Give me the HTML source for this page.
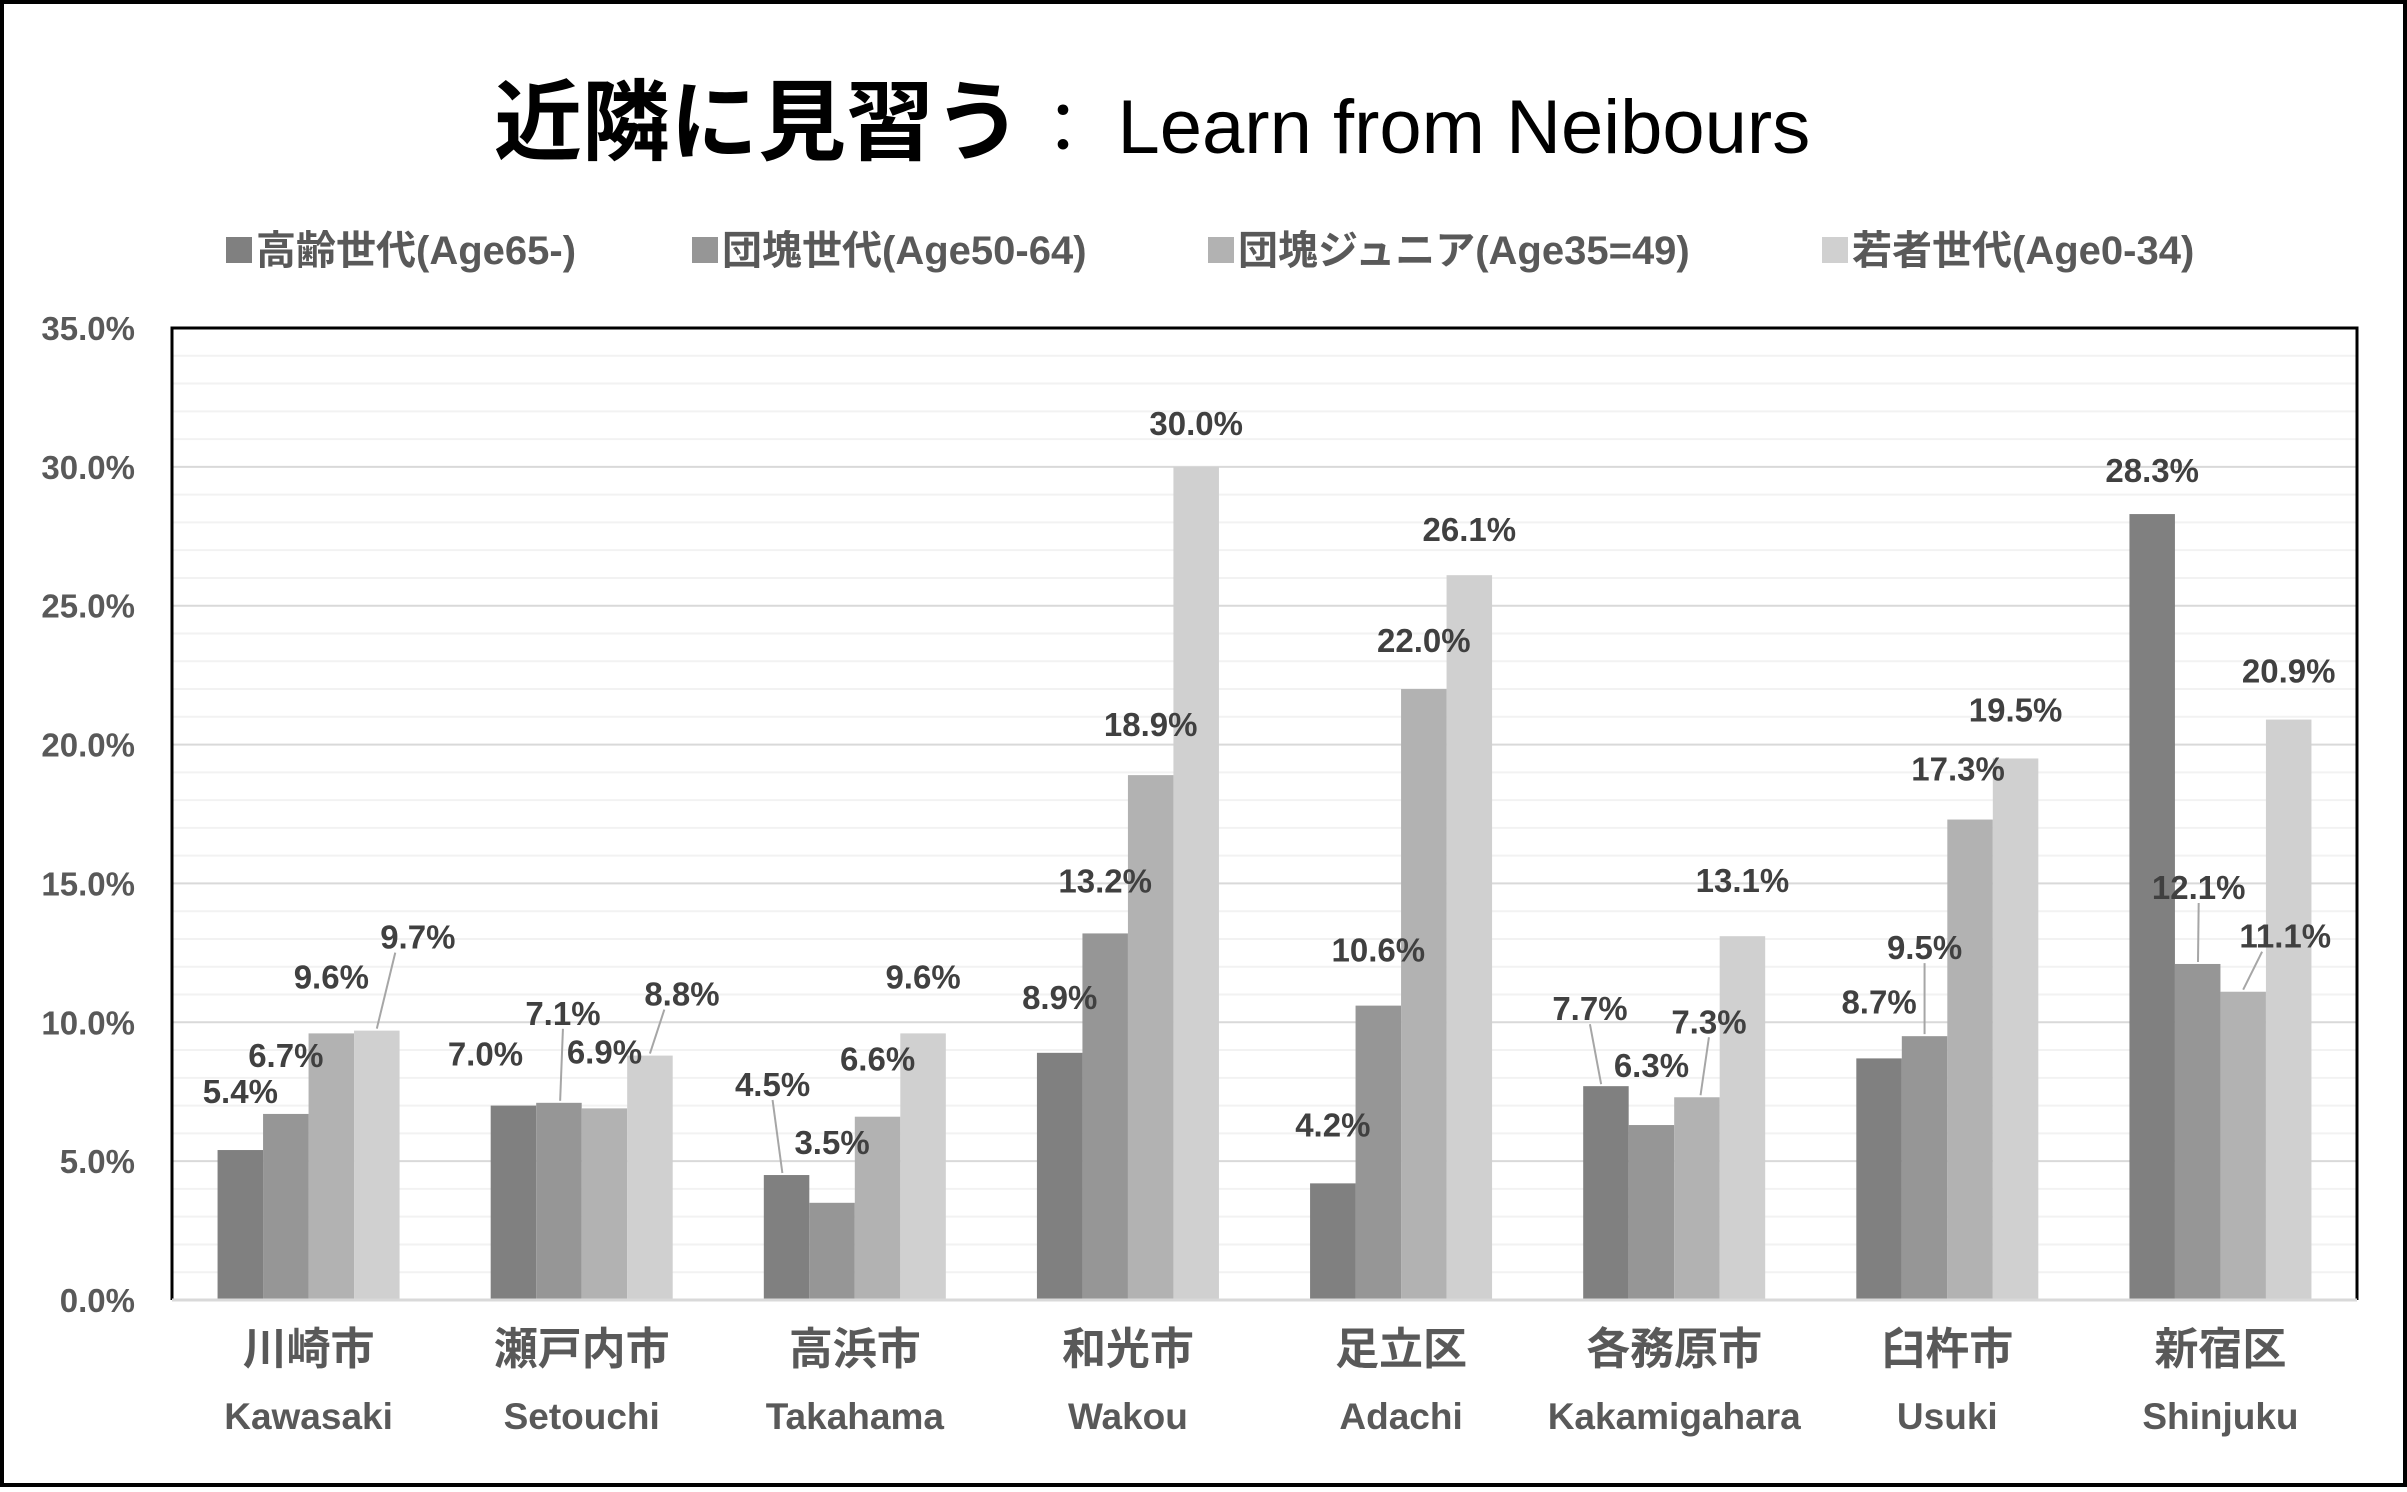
<!DOCTYPE html>
<html><head><meta charset="utf-8"><style>
body{margin:0;background:#fff}
svg text{font-family:"Liberation Sans","Noto Sans CJK JP",sans-serif}
</style></head><body>
<svg id="chart" width="2407" height="1487" viewBox="0 0 2407 1487" xmlns="http://www.w3.org/2000/svg">
<rect x="2" y="2" width="2403" height="1483" fill="#fff" stroke="#000" stroke-width="4"/>
<text x="494" y="153" font-size="88" font-weight="bold" fill="#000">近隣に見習う<tspan font-weight="normal" font-size="70" dx="6">： </tspan><tspan font-weight="normal" font-size="76">Learn from Neibours</tspan></text>
<g id="legend"></g>
<g id="grid"></g>
<g id="yaxis"></g>
<g id="bars"></g>
<g id="labels"></g>
<g id="xaxis"></g>
</svg>
<script>
const categoriesJP = ["川崎市","瀬戸内市","高浜市","和光市","足立区","各務原市","臼杵市","新宿区"];
const categoriesEN = ["Kawasaki","Setouchi","Takahama","Wakou","Adachi","Kakamigahara","Usuki","Shinjuku"];
const seriesNames = ["高齢世代(Age65-)","団塊世代(Age50-64)","団塊ジュニア(Age35=49)","若者世代(Age0-34)"];
const elderly = [5.4,7.0,4.5,8.9,4.2,7.7,8.7,28.3];
const boomers = [6.7,7.1,3.5,13.2,10.6,6.3,9.5,12.1];
const juniors = [9.6,6.9,6.6,18.9,22.0,7.3,17.3,11.1];
const youth = [9.7,8.8,9.6,30.0,26.1,13.1,19.5,20.9];
const yTicks = [0,5,10,15,20,25,30,35];

const NS="http://www.w3.org/2000/svg";
const colors=["#808080","#969696","#b2b2b2","#d0d0d0"];
const series=[elderly,boomers,juniors,youth];
const L=172,R=2357,T=328,B=1300,yMax=35;
const y=v=>B-(v/yMax)*(B-T);
const gw=(R-L)/categoriesJP.length, bw=45.5;
const gx=i=>L+gw*(i+0.5);
const bx=(i,j)=>gx(i)+(j-1.5)*bw;
function mk(tag,attrs,parent){const e=document.createElementNS(NS,tag);for(const k in attrs)e.setAttribute(k,attrs[k]);parent.appendChild(e);return e;}
const G=id=>document.getElementById(id);
// label offsets [series][category] = [dx,dy] relative to bar top
const off=[
 [[0,-59],[-28,-52],[-14,-91],[0,-56],[0,-59],[-16,-78],[0,-57],[0,-44]],
 [[0,-59],[4,-90],[0,-61],[0,-53],[0,-56],[0,-60],[0,-89],[1,-77]],
 [[0,-57],[0,-57],[0,-58],[0,-51],[0,-49],[12,-76],[-12,-51],[42,-56]],
 [[41,-94],[32,-62],[0,-57],[0,-44],[0,-46],[0,-56],[0,-49],[0,-49]]
];
// grid
for(let v=1;v<=35;v++){const l=mk("line",{x1:L,x2:R,y1:y(v),y2:y(v),stroke:v%5?"#f2f2f2":"#d9d9d9","stroke-width":2},G("grid"));

}
// plot frame
const fr=mk("path",{d:`M${L},${B} L${L},${T} L${R},${T} L${R},${B}`,fill:"none",stroke:"#000","stroke-width":3},G("grid"));


yTicks.forEach(v=>{const t=mk("text",{x:135,y:y(v)+12,"text-anchor":"end","font-size":33,"font-weight":"bold",fill:"#595959"},G("yaxis"));t.textContent=v.toFixed(1)+"%";

});
series.forEach((s,j)=>s.forEach((v,i)=>{
 const r=mk("rect",{x:bx(i,j)-bw/2,y:y(v),width:bw,height:B-y(v),fill:colors[j]},G("bars"));
 
 
 const [dx,dy]=off[j][i];const lx=bx(i,j)+dx, ly=y(v)+dy;
 if(Math.abs(dx)>30||dy<-70){const ln=mk("line",{x1:lx-(dx>30?dx*0.55:0),y1:ly+16,x2:bx(i,j)+(dx>30?0:dx*0.3),y2:y(v)-2,stroke:"#a6a6a6","stroke-width":2},G("labels"));
 
 }
 const t=mk("text",{x:lx,y:ly+12,"text-anchor":"middle","font-size":33,"font-weight":"bold",fill:"#404040"},G("labels"));
 t.textContent=v.toFixed(1)+"%";
 
 
}));
const ax=mk("line",{x1:L,x2:R,y1:B,y2:B,stroke:"#d9d9d9","stroke-width":3},G("xaxis"));


categoriesJP.forEach((c,i)=>{
 const a=mk("text",{x:gx(i),y:1364,"text-anchor":"middle","font-size":44,"font-weight":"bold",fill:"#595959"},G("xaxis"));a.textContent=c;
 
 
 const b=mk("text",{x:gx(i),y:1429,"text-anchor":"middle","font-size":37,"font-weight":"bold",fill:"#595959"},G("xaxis"));b.textContent=categoriesEN[i];
 
 
});
const lgx=[226,692,1208,1822];
seriesNames.forEach((n,j)=>{
 const r=mk("rect",{x:lgx[j],y:237,width:26,height:26,fill:colors[j]},G("legend"));
 
 
 const t=mk("text",{x:lgx[j]+30,y:264,"font-size":40,"font-weight":"bold",fill:"#595959"},G("legend"));t.textContent=n;
 
 
});
</script>
</body></html>
